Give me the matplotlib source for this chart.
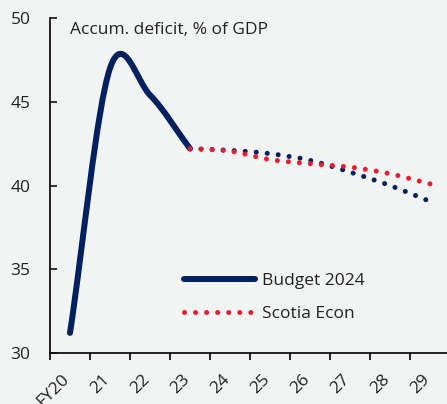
import numpy as np
import matplotlib
matplotlib.use('Agg')
import matplotlib.pyplot as plt
from matplotlib.path import Path
from matplotlib.patches import PathPatch
from matplotlib.lines import Line2D
from matplotlib.transforms import ScaledTranslation

plt.rcParams['font.family'] = ['Open Sans', 'DejaVu Sans']

years = ['FY20', '21', '22', '23', '24', '25', '26', '27', '28', '29']
budget = [31.2, 47.0, 45.4, 42.2, 42.1, 41.9, 41.5, 40.8, 40.0, 39.05]
scotia = [42.2, 42.05, 41.55, 41.3, 41.1, 40.7, 40.1]  # FY23 onward
last_actual = 3  # index of FY23, where the budget line turns dotted

navy = '#002060'
red = '#ec1c2e'
bg = '#f2f3f3'


def smooth_path(x, y):
    # Catmull-Rom through the points, written as cubic Bezier segments
    x = np.asarray(x, float)
    y = np.asarray(y, float)
    n = len(x)
    m = np.zeros(n)
    m[1:-1] = (y[2:] - y[:-2]) / (x[2:] - x[:-2])
    m[0] = (y[1] - y[0]) / (x[1] - x[0])
    m[-1] = (y[-1] - y[-2]) / (x[-1] - x[-2])
    verts = [(x[0], y[0])]
    codes = [Path.MOVETO]
    for i in range(n - 1):
        dx = x[i + 1] - x[i]
        verts += [(x[i] + dx / 3, y[i] + m[i] * dx / 3),
                  (x[i + 1] - dx / 3, y[i + 1] - m[i + 1] * dx / 3),
                  (x[i + 1], y[i + 1])]
        codes += [Path.CURVE4] * 3
    return Path(verts, codes)


fig = plt.figure(figsize=(4.47, 4.04), dpi=100, facecolor=bg)
ax = fig.add_axes([50 / 447, 51 / 404, 397 / 447, 335 / 404], facecolor=bg)

x = np.arange(len(years))
dots = (0, (0.01, 2.2))

# budget actuals (solid) and projections (dotted), then Scotia on top
ax.add_patch(PathPatch(smooth_path(x[:last_actual + 1], budget[:last_actual + 1]),
                       fill=False, edgecolor=navy, lw=4.3, capstyle='round',
                       joinstyle='round'))
ax.add_patch(PathPatch(smooth_path(x[last_actual:], budget[last_actual:]),
                       fill=False, edgecolor=navy, lw=3.6, linestyle=dots,
                       capstyle='round'))
ax.add_patch(PathPatch(smooth_path(x[last_actual:], scotia),
                       fill=False, edgecolor=red, lw=3.6, linestyle=dots,
                       capstyle='round'))

ax.set_xlim(-0.5, 9.425)
ax.set_ylim(30, 50)

for s in ['top', 'right']:
    ax.spines[s].set_visible(False)
for s in ['left', 'bottom']:
    ax.spines[s].set_linewidth(1.3)
    ax.spines[s].set_color('#111111')

ax.set_yticks([30, 35, 40, 45, 50])
ax.tick_params(axis='y', direction='in', length=5, width=1.3, pad=14,
               labelsize=12.5, colors='#222222')

ax.set_xticks(x)
ax.set_xticklabels(years)
ax.set_xticks(np.arange(-0.5, 9.0, 1.0), minor=True)
ax.tick_params(axis='x', which='major', length=0, pad=13, labelsize=12.5,
               colors='#222222')
ax.tick_params(axis='x', which='minor', direction='out', length=5, width=1.3,
               color='#111111')
shift = ScaledTranslation(2 / 72, 0, fig.dpi_scale_trans)
for lab in ax.get_xticklabels():
    lab.set_rotation(45)
    lab.set_ha('right')
    lab.set_va('top')
    lab.set_transform(lab.get_transform() + shift)

ax.text(0.05, 0.964, 'Accum. deficit, % of GDP', transform=ax.transAxes,
        fontsize=12.5, va='center', ha='left', color='#222222')

handles = [Line2D([], [], color=navy, lw=4.3, solid_capstyle='round'),
           Line2D([], [], color=red, lw=3.6, linestyle=dots,
                  dash_capstyle='round')]
ax.legend(handles, ['Budget 2024', 'Scotia Econ'], loc='upper left',
          bbox_to_anchor=(0.337, 0.239), frameon=False, fontsize=12.5,
          handlelength=4.1, handletextpad=0.4, labelspacing=0.98,
          borderpad=0, borderaxespad=0, labelcolor='#222222')

fig.savefig('out.png', dpi=100, facecolor=bg)
